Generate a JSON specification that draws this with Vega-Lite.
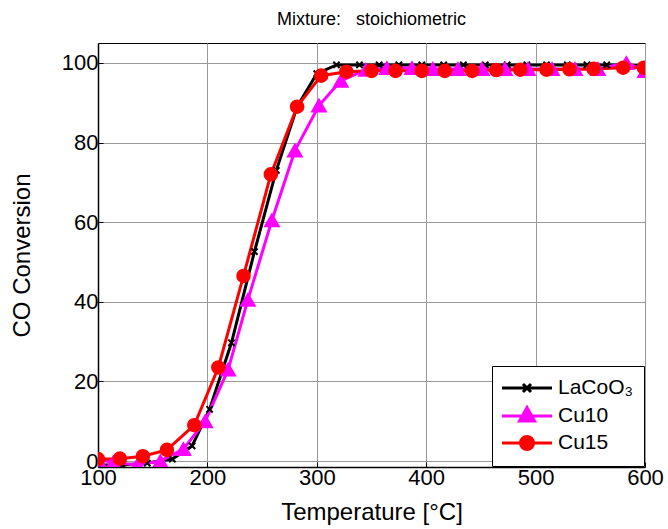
{
  "$schema": "https://vega.github.io/schema/vega-lite/v6.json",
  "autosize": "none",
  "width": 547,
  "height": 424,
  "padding": {"left": 98, "top": 43, "right": 23, "bottom": 62},
  "background": "white",
  "config": {
    "font": "Liberation Sans",
    "view": {"stroke": "black", "strokeWidth": 1},
    "axis": {
      "labelFont": "Liberation Sans", "titleFont": "Liberation Sans",
      "labelFontSize": 22, "titleFontSize": 24, "titleFontWeight": "normal",
      "labelColor": "black", "titleColor": "black",
      "domainColor": "black", "domainWidth": 1.5,
      "tickColor": "black", "tickSize": -5,
      "grid": true, "gridColor": "#9a9a9a", "gridWidth": 1
    }
  },
  "title": {"text": "Mixture:\u00a0\u00a0\u00a0stoichiometric", "fontSize": 18, "font": "Liberation Sans", "fontWeight": "normal", "color": "black", "offset": 14},
  "data": {"values": [
    {"s": "LaCoO₃", "T": 100, "v": -1},
    {"s": "LaCoO₃", "T": 122, "v": -1},
    {"s": "LaCoO₃", "T": 145, "v": -0.5},
    {"s": "LaCoO₃", "T": 168, "v": 0.5},
    {"s": "LaCoO₃", "T": 186, "v": 3.8},
    {"s": "LaCoO₃", "T": 202, "v": 13},
    {"s": "LaCoO₃", "T": 222, "v": 29.7},
    {"s": "LaCoO₃", "T": 243, "v": 52.6},
    {"s": "LaCoO₃", "T": 263, "v": 73},
    {"s": "LaCoO₃", "T": 282, "v": 89},
    {"s": "LaCoO₃", "T": 300, "v": 97.3},
    {"s": "LaCoO₃", "T": 318, "v": 99.5},
    {"s": "LaCoO₃", "T": 339, "v": 99.5},
    {"s": "LaCoO₃", "T": 357, "v": 99.5},
    {"s": "LaCoO₃", "T": 375, "v": 99.5},
    {"s": "LaCoO₃", "T": 396, "v": 99.5},
    {"s": "LaCoO₃", "T": 416, "v": 99.5},
    {"s": "LaCoO₃", "T": 434, "v": 99.5},
    {"s": "LaCoO₃", "T": 454, "v": 99.5},
    {"s": "LaCoO₃", "T": 474, "v": 99.5},
    {"s": "LaCoO₃", "T": 492, "v": 99.5},
    {"s": "LaCoO₃", "T": 510, "v": 99.5},
    {"s": "LaCoO₃", "T": 529, "v": 99.5},
    {"s": "LaCoO₃", "T": 547, "v": 99.5},
    {"s": "LaCoO₃", "T": 565, "v": 99.5},
    {"s": "LaCoO₃", "T": 583, "v": 99.5},
    {"s": "LaCoO₃", "T": 600, "v": 99.2},
    {"s": "Cu10", "T": 100, "v": 0.3},
    {"s": "Cu10", "T": 114, "v": -0.3},
    {"s": "Cu10", "T": 136, "v": -1},
    {"s": "Cu10", "T": 157, "v": 0},
    {"s": "Cu10", "T": 178, "v": 3},
    {"s": "Cu10", "T": 198, "v": 10},
    {"s": "Cu10", "T": 219, "v": 23},
    {"s": "Cu10", "T": 237, "v": 40.5},
    {"s": "Cu10", "T": 259, "v": 60.5},
    {"s": "Cu10", "T": 280, "v": 78},
    {"s": "Cu10", "T": 302, "v": 89.3},
    {"s": "Cu10", "T": 322, "v": 95.5},
    {"s": "Cu10", "T": 345, "v": 98.3},
    {"s": "Cu10", "T": 364, "v": 98.7},
    {"s": "Cu10", "T": 387, "v": 98.7},
    {"s": "Cu10", "T": 406, "v": 98.5},
    {"s": "Cu10", "T": 429, "v": 98.5},
    {"s": "Cu10", "T": 451, "v": 98.5},
    {"s": "Cu10", "T": 472, "v": 98.5},
    {"s": "Cu10", "T": 493, "v": 98.5},
    {"s": "Cu10", "T": 515, "v": 98.5},
    {"s": "Cu10", "T": 536, "v": 98.5},
    {"s": "Cu10", "T": 557, "v": 98.5},
    {"s": "Cu10", "T": 583, "v": 100},
    {"s": "Cu10", "T": 600, "v": 98},
    {"s": "Cu15", "T": 100, "v": 0.5},
    {"s": "Cu15", "T": 120, "v": 0.6},
    {"s": "Cu15", "T": 141, "v": 1.2},
    {"s": "Cu15", "T": 163, "v": 2.8},
    {"s": "Cu15", "T": 188, "v": 9},
    {"s": "Cu15", "T": 210, "v": 23.5},
    {"s": "Cu15", "T": 233, "v": 46.5},
    {"s": "Cu15", "T": 258, "v": 72},
    {"s": "Cu15", "T": 282, "v": 89},
    {"s": "Cu15", "T": 304, "v": 96.8},
    {"s": "Cu15", "T": 327, "v": 97.8},
    {"s": "Cu15", "T": 350, "v": 98},
    {"s": "Cu15", "T": 372, "v": 98},
    {"s": "Cu15", "T": 396, "v": 98},
    {"s": "Cu15", "T": 417, "v": 98},
    {"s": "Cu15", "T": 442, "v": 98},
    {"s": "Cu15", "T": 464, "v": 98.2},
    {"s": "Cu15", "T": 486, "v": 98.3},
    {"s": "Cu15", "T": 510, "v": 98.3},
    {"s": "Cu15", "T": 531, "v": 98.4},
    {"s": "Cu15", "T": 553, "v": 98.5},
    {"s": "Cu15", "T": 580, "v": 98.8},
    {"s": "Cu15", "T": 599, "v": 98.8}
  ]},
  "encoding": {
    "x": {"field": "T", "type": "quantitative", "scale": {"domain": [100, 600], "nice": false, "zero": false},
          "axis": {"values": [100, 200, 300, 400, 500, 600], "title": "Temperature [°C]", "labelPadding": 5, "titlePadding": 12, "labelFlush": false}},
    "y": {"field": "v", "type": "quantitative", "scale": {"domain": [-1.5, 105], "nice": false, "zero": false},
          "axis": {"values": [0, 20, 40, 60, 80, 100], "title": "CO Conversion", "labelPadding": 5, "titlePadding": 27}}
  },
  "layer": [
    {
      "mark": {"type": "line", "strokeWidth": 3, "clip": true},
      "encoding": {
        "color": {"field": "s", "type": "nominal",
          "scale": {"domain": ["LaCoO₃", "Cu10", "Cu15"], "range": ["#000000", "#ff00ff", "#ff0000"]},
          "sort": ["LaCoO₃", "Cu10", "Cu15"],
          "legend": {
            "orient": "none", "legendX": 394, "legendY": 323,
            "title": null, "fillColor": "white", "strokeColor": "black",
            "padding": 10, "labelFontSize": 21, "labelColor": "black", "labelFont": "Liberation Sans",
            "symbolSize": 400, "rowPadding": 3, "labelOffset": 6,
            "encode": {
              "symbols": {"update": {
                "shape": {"signal": "datum.value === 'Cu10' ? 'M-1,0H1M0,-0.34L0.3,0.2L-0.3,0.2Z' : datum.value === 'Cu15' ? 'M-1,0H1M0.26,0A0.26,0.26,0,1,1,-0.26,0A0.26,0.26,0,1,1,0.26,0Z' : 'M-1,0H1M-0.16,-0.16L0.16,0.16M-0.16,0.16L0.16,-0.16'"},
                "fill": {"signal": "datum.value === 'Cu10' ? '#ff00ff' : datum.value === 'Cu15' ? '#ff0000' : '#000000'"},
                "stroke": {"signal": "datum.value === 'Cu10' ? '#ff00ff' : datum.value === 'Cu15' ? '#ff0000' : '#000000'"},
                "strokeWidth": {"value": 3},
                "size": {"value": 2500},
                "x": {"value": 25},
                "y": {"value": 12},
                "opacity": {"value": 1}
              }},
              "labels": {"update": {"x": {"value": 56}, "y": {"value": 12}}}
            }
          }
        }
      }
    },
    {
      "transform": [{"filter": "datum.s === 'LaCoO₃'"}],
      "mark": {"type": "point", "shape": "M-1,-1L1,1M-1,1L1,-1", "filled": false, "stroke": "#000000", "strokeWidth": 2, "size": 40, "opacity": 1, "clip": true}
    },
    {
      "transform": [{"filter": "datum.s === 'Cu10'"}],
      "mark": {"type": "point", "shape": "triangle-up", "filled": true, "fill": "#ff00ff", "stroke": "#ff00ff", "strokeWidth": 1.5, "size": 210, "opacity": 1, "clip": true}
    },
    {
      "transform": [{"filter": "datum.s === 'Cu15'"}],
      "mark": {"type": "point", "shape": "circle", "filled": true, "fill": "#ff0000", "stroke": "#ff0000", "strokeWidth": 1.5, "size": 170, "opacity": 1, "clip": true}
    }
  ]
}
